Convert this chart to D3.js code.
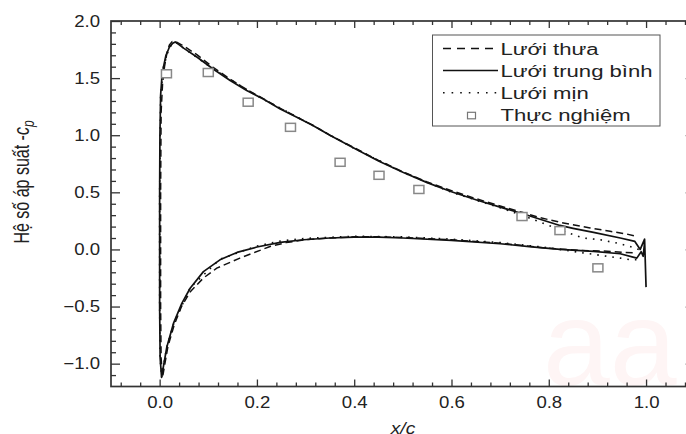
<!DOCTYPE html>
<html>
<head>
<meta charset="utf-8">
<script src="https://cdn.jsdelivr.net/npm/d3@7"></script>
<style>
body { margin: 0; background: #fff; }
svg { display: block; }
text { font-family: "Liberation Sans", Arial, sans-serif; fill: #222; }
</style>
</head>
<body>
<svg id="chart" width="686" height="434"></svg>
<script>
// values, [x/c, -Cp]
let trungBinhUpper = [
    [1.0, -0.33], [0.997, 0.09], [0.988, 0.0], [0.977, 0.07], [0.947, 0.10], [0.892, 0.15],
    [0.85, 0.185], [0.823, 0.21], [0.8, 0.24], [0.745, 0.315], [0.7, 0.37], [0.65, 0.435],
    [0.6, 0.505], [0.55, 0.585], [0.5, 0.675], [0.45, 0.775], [0.4, 0.885], [0.35, 1.0],
    [0.316, 1.083], [0.282, 1.157], [0.248, 1.23], [0.213, 1.318], [0.179, 1.391],
    [0.145, 1.479], [0.11, 1.58], [0.0765, 1.685], [0.05, 1.76], [0.032, 1.817],
    [0.027, 1.805], [0.02, 1.77], [0.013, 1.70], [0.008, 1.60], [0.0045, 1.50],
    [0.002, 1.35], [0.0006, 1.0], [0.0, 0.5]
]
let trungBinhLower = [
    [0.0, 0.5], [0.0, -0.5], [0.001, -0.95], [0.004, -1.12], [0.008, -1.02], [0.0148, -0.854],
    [0.0284, -0.648], [0.0456, -0.472], [0.0627, -0.34], [0.09, -0.194], [0.124, -0.091],
    [0.159, -0.026], [0.2, 0.021], [0.248, 0.062], [0.296, 0.085], [0.35, 0.10], [0.4, 0.108],
    [0.45, 0.108], [0.5, 0.10], [0.6, 0.08], [0.7, 0.05], [0.76, 0.025], [0.823, 0.0],
    [0.892, -0.017], [0.947, -0.038], [0.981, -0.076], [0.99, -0.02], [0.994, -0.06], [0.997, 0.06]
]
let thuaUpper = [
    [0.975, 0.12], [0.96, 0.135], [0.926, 0.159], [0.885, 0.188], [0.823, 0.238], [0.78, 0.28],
    [0.745, 0.325], [0.7, 0.38], [0.65, 0.445], [0.6, 0.515], [0.55, 0.59], [0.5, 0.68],
    [0.45, 0.78], [0.4, 0.89], [0.35, 1.0], [0.316, 1.085], [0.282, 1.16], [0.248, 1.235],
    [0.213, 1.32], [0.179, 1.40], [0.145, 1.49], [0.11, 1.595], [0.0765, 1.705], [0.05, 1.78],
    [0.035, 1.815], [0.026, 1.82], [0.02, 1.79], [0.015, 1.72], [0.01, 1.60], [0.006, 1.45],
    [0.003, 1.2], [0.002, 0.5]
]
let thuaLower = [
    [0.002, 0.5], [0.002, -0.5], [0.003, -0.95], [0.006, -1.12], [0.01, -1.02], [0.017, -0.85],
    [0.03, -0.66], [0.045, -0.50], [0.063, -0.37], [0.09, -0.25], [0.1175, -0.164],
    [0.165, -0.076], [0.227, 0.026], [0.26, 0.06], [0.3, 0.085], [0.35, 0.10], [0.4, 0.11],
    [0.45, 0.11], [0.5, 0.105], [0.6, 0.085], [0.7, 0.055], [0.8, 0.01], [0.864, -0.009],
    [0.912, -0.014], [0.953, -0.026], [0.975, -0.03]
]
let minUpper = [
    [0.985, 0.0], [0.967, 0.026], [0.94, 0.056], [0.905, 0.085], [0.871, 0.10], [0.837, 0.15],
    [0.8, 0.21], [0.76, 0.275], [0.7, 0.365], [0.6, 0.5], [0.5, 0.675], [0.4, 0.885], [0.3, 1.12],
    [0.2, 1.345], [0.11, 1.58], [0.05, 1.76], [0.032, 1.817], [0.02, 1.77], [0.008, 1.6],
    [0.002, 1.35], [0.0, 0.5]
]
let minLower = [
    [0.0, 0.5], [0.0, -0.5], [0.001, -0.95], [0.004, -1.12], [0.008, -1.02], [0.0148, -0.85],
    [0.03, -0.635], [0.0627, -0.335], [0.124, -0.085], [0.2, 0.03], [0.25, 0.075], [0.3, 0.097],
    [0.4, 0.115], [0.5, 0.11], [0.6, 0.09], [0.7, 0.06], [0.8, 0.015], [0.87, -0.03],
    [0.912, -0.055], [0.947, -0.076], [0.967, -0.09], [0.985, -0.09]
]
let expX = [0.014, 0.10, 0.182, 0.269, 0.371, 0.451, 0.533, 0.745, 0.823, 0.901]
let expCp = [1.538, 1.549, 1.289, 1.069, 0.763, 0.649, 0.525, 0.288, 0.165, -0.161]

let legendNames = ["Lưới thưa", "Lưới trung bình", "Lưới mịn", "Thực nghiệm"]
let xTicks = [0.0, 0.2, 0.4, 0.6, 0.8, 1.0]
let yTicks = [-1.0, -0.5, 0.0, 0.5, 1.0, 1.5, 2.0]

let svg = d3.select("#chart")

let plotLeft = 111, plotRight = 694.7, plotTop = 21, plotBottom = 386.5

let xScale = d3.scaleLinear().domain([-0.1, 1.1]).range([plotLeft, plotRight])
let yScale = d3.scaleLinear().domain([-1.2, 2.0]).range([plotBottom, plotTop])

// faint watermark in the corner
svg.append("text")
    .attr("x", 543).attr("y", 385)
    .style("font-size", "120px")
    .style("fill", "#fef5f5")
    .text("aa")

let line = d3.line()
    .x(d => xScale(d[0]))
    .y(d => yScale(d[1]))

let plot = svg.append("g")

let dashThua = "7,4"
let dashMin = "1.6,6"

let drawCurve = (points, dash, width) => {
    plot.append("path")
        .attr("d", line(points))
        .attr("fill", "none")
        .attr("stroke", "#111")
        .attr("stroke-width", width)
        .attr("stroke-dasharray", dash)
        .attr("stroke-linejoin", "round")
}

drawCurve(minUpper.concat(minLower), dashMin, 1.6)
drawCurve(thuaUpper, dashThua, 1.5)
drawCurve(thuaLower, dashThua, 1.5)
drawCurve(trungBinhUpper.concat(trungBinhLower), null, 1.7)

plot.selectAll(".exp")
    .data(expX)
    .enter()
    .append("rect")
    .attr("class", "exp")
    .attr("x", (d) => xScale(d) - 5)
    .attr("y", (d, i) => yScale(expCp[i]) - 4)
    .attr("width", 10)
    .attr("height", 8)
    .attr("fill", "#fff")
    .attr("stroke", "#888")
    .attr("stroke-width", 1.5)

// axes: ticks point inwards, minor every 0.04 / 0.1
let xMinor = d3.range(-0.08, 1.1, 0.04).filter(v => !xTicks.some(t => Math.abs(t - v) < 1e-6))
let yMinor = d3.range(-1.1, 2.0, 0.1).filter(v => !yTicks.some(t => Math.abs(t - v) < 1e-6))

let axisColor = "#333"

let styleAxis = (g) => {
    g.select(".domain").remove()
    g.selectAll("line").attr("stroke", axisColor).attr("stroke-width", 1.3)
    g.selectAll("text").style("font-size", "16px").style("fill", "#222")
}
let noLabels = (g) => {
    g.selectAll("text").remove()
}

svg.append("g").attr("transform", `translate(0,${plotBottom})`)
    .call(d3.axisBottom(xScale).tickValues(xTicks).tickSize(-7).tickPadding(10.5).tickFormat(d3.format(".1f")))
    .call(styleAxis)
svg.append("g").attr("transform", `translate(0,${plotBottom})`)
    .call(d3.axisBottom(xScale).tickValues(xMinor).tickSize(-4))
    .call(styleAxis).call(noLabels)
svg.append("g").attr("transform", `translate(0,${plotTop})`)
    .call(d3.axisTop(xScale).tickValues(xTicks).tickSize(-7))
    .call(styleAxis).call(noLabels)
svg.append("g").attr("transform", `translate(0,${plotTop})`)
    .call(d3.axisTop(xScale).tickValues(xMinor).tickSize(-4))
    .call(styleAxis).call(noLabels)

svg.append("g").attr("transform", `translate(${plotLeft},0)`)
    .call(d3.axisLeft(yScale).tickValues(yTicks).tickSize(-9).tickPadding(11).tickFormat(d3.format(".1f")))
    .call(styleAxis)
svg.append("g").attr("transform", `translate(${plotLeft},0)`)
    .call(d3.axisLeft(yScale).tickValues(yMinor).tickSize(-5))
    .call(styleAxis).call(noLabels)
svg.append("g").attr("transform", `translate(${plotRight},0)`)
    .call(d3.axisRight(yScale).tickValues(yTicks).tickSize(-9))
    .call(styleAxis).call(noLabels)
svg.append("g").attr("transform", `translate(${plotRight},0)`)
    .call(d3.axisRight(yScale).tickValues(yMinor).tickSize(-5))
    .call(styleAxis).call(noLabels)

// the tick labels in the picture are a bit wider than Arial
svg.selectAll(".tick text").each(function () {
    let w = this.getComputedTextLength()
    d3.select(this).attr("textLength", w * 1.16).attr("lengthAdjust", "spacingAndGlyphs")
})

svg.append("rect")
    .attr("x", plotLeft).attr("y", plotTop)
    .attr("width", plotRight - plotLeft).attr("height", plotBottom - plotTop)
    .attr("fill", "none")
    .attr("stroke", axisColor)
    .attr("stroke-width", 1.7)

// axis titles
svg.append("text")
    .attr("x", 403).attr("y", 434)
    .attr("text-anchor", "middle")
    .style("font-size", "16px")
    .style("font-style", "italic")
    .attr("transform", "translate(403,0) scale(1.2,1) translate(-403,0)")
    .text("x/c")

let yTitle = svg.append("text")
    .attr("transform", "translate(29,182) scale(1.35,1) rotate(-90)")
    .attr("text-anchor", "middle")
    .style("font-size", "16px")
yTitle.append("tspan").text("Hệ số áp suất -")
yTitle.append("tspan").style("font-style", "italic").text("c")
yTitle.append("tspan").style("font-style", "italic").style("font-size", "12px")
    .attr("dy", 4).text("p")

// legend
let legend = svg.append("g")
legend.append("rect")
    .attr("x", 432.5).attr("y", 35)
    .attr("width", 227.5).attr("height", 91)
    .attr("fill", "#fff")
    .attr("stroke", "#555")
    .attr("stroke-width", 1)

let legendDash = ["8,6", null, "1.6,7"]
legendNames.forEach((name, i) => {
    let baseY = 54.5 + i * 22.1
    if (i < 3) {
        legend.append("line")
            .attr("x1", 443).attr("x2", 498)
            .attr("y1", baseY - 6).attr("y2", baseY - 6)
            .attr("stroke", "#111")
            .attr("stroke-width", 1.5)
            .attr("stroke-dasharray", legendDash[i])
    } else {
        legend.append("rect")
            .attr("x", 467.5).attr("y", baseY - 8.5)
            .attr("width", 8).attr("height", 6.5)
            .attr("fill", "#fff")
            .attr("stroke", "#777")
            .attr("stroke-width", 1.2)
    }
    let t = legend.append("text")
        .attr("x", 500.5).attr("y", baseY)
        .style("font-size", "16px")
        .text(name)
    let w = t.node().getComputedTextLength()
    t.attr("textLength", w * 1.38).attr("lengthAdjust", "spacingAndGlyphs")
})
</script>
</body>
</html>
